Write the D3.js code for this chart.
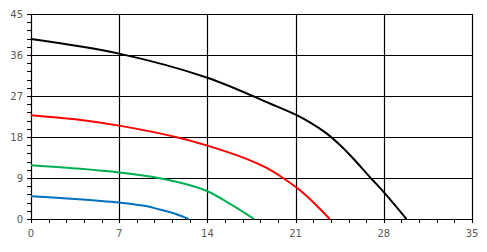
<!DOCTYPE html>
<html>
<head>
<meta charset="utf-8">
<script src="https://cdn.jsdelivr.net/npm/d3@7"></script>
<style>
body { margin: 0; background: #fff; }
svg text { font-family: "DejaVu Sans", sans-serif; font-size: 10px; fill: #595959; }
</style>
</head>
<body>
<div class="chart"></div>
<script>
var width = 487;
var height = 252;
var margin = {top: 14, right: 15, bottom: 33, left: 31};

var xTicks = [0, 7, 14, 21, 28, 35];
var yTicks = [0, 9, 18, 27, 36, 45];

// curves
var blackX = [0, 7, 14, 19, 21, 22.2, 23.4, 24.5, 25.5, 27, 28, 29.8];
var blackY = [39.5, 36.3, 31.0, 25.3, 22.9, 21.1, 18.9, 16.3, 13.5, 8.9, 5.9, 0];
var redX = [0, 3.5, 7, 11.8, 14, 17.1, 18.7, 20, 21.3, 22.5, 23.7];
var redY = [22.8, 21.9, 20.5, 17.8, 16.1, 13.2, 11.2, 9.0, 6.4, 3.4, 0];
var greenX = [0, 3.5, 7, 10.1, 11.8, 14, 15.8, 17.7];
var greenY = [11.8, 11.1, 10.2, 9.0, 8.0, 6.1, 3.3, 0];
var blueX = [0, 3.5, 7, 9, 10.2, 11.5, 12.5];
var blueY = [5.0, 4.4, 3.6, 2.9, 2.1, 1.1, 0];

var series = [
    {xs: blackX, ys: blackY, color: "#000000"},
    {xs: redX, ys: redY, color: "#ff0000"},
    {xs: greenX, ys: greenY, color: "#00b050"},
    {xs: blueX, ys: blueY, color: "#0070c0"}
];

var svg = d3.select(".chart").append("svg")
    .attr("width", width)
    .attr("height", height);

var x = d3.scaleLinear().domain([0, 35]).range([margin.left, width - margin.right]);
var y = d3.scaleLinear().domain([0, 45]).range([height - margin.bottom, margin.top]);

// grid lines
svg.append("g").selectAll("line").data(xTicks).enter().append("line")
    .attr("x1", d => Math.round(x(d)) + 0.5).attr("x2", d => Math.round(x(d)) + 0.5)
    .attr("y1", y(0) + 3).attr("y2", y(45))
    .attr("stroke", "#000").attr("stroke-width", 1.2);
svg.append("g").selectAll("line").data(yTicks).enter().append("line")
    .attr("x1", x(0)).attr("x2", x(35))
    .attr("y1", d => Math.round(y(d)) + 0.5).attr("y2", d => Math.round(y(d)) + 0.5)
    .attr("stroke", "#000").attr("stroke-width", 1.2);

// minor ticks
var xMinor = d3.range(0, 35.01, 1.4);
var yMinor = d3.range(0, 45.01, 1.8);
svg.append("g").selectAll("line").data(xMinor).enter().append("line")
    .attr("x1", d => Math.round(x(d)) + 0.5).attr("x2", d => Math.round(x(d)) + 0.5)
    .attr("y1", Math.round(y(0))).attr("y2", Math.round(y(0)) + 4)
    .attr("stroke", "#000");
svg.append("g").selectAll("line").data(yMinor).enter().append("line")
    .attr("x1", x(0) - 4).attr("x2", x(0))
    .attr("y1", d => Math.round(y(d)) + 0.5).attr("y2", d => Math.round(y(d)) + 0.5)
    .attr("stroke", "#000");

// tick labels
svg.append("g").selectAll("text").data(xTicks).enter().append("text")
    .attr("x", d => x(d)).attr("y", y(0) + 18)
    .attr("text-anchor", "middle")
    .text(d => d);
svg.append("g").selectAll("text").data(yTicks).enter().append("text")
    .attr("x", x(0) - 8).attr("y", d => y(d) + 4)
    .attr("text-anchor", "end")
    .text(d => d);

var line = d3.line()
    .x(d => x(d[0]))
    .y(d => y(d[1]))
    .curve(d3.curveCatmullRom.alpha(0.5));

svg.append("g").selectAll("path").data(series).enter().append("path")
    .attr("d", s => line(s.xs.map((v, i) => [v, s.ys[i]])))
    .attr("fill", "none")
    .attr("stroke", s => s.color)
    .attr("stroke-width", 2);
</script>
</body>
</html>
